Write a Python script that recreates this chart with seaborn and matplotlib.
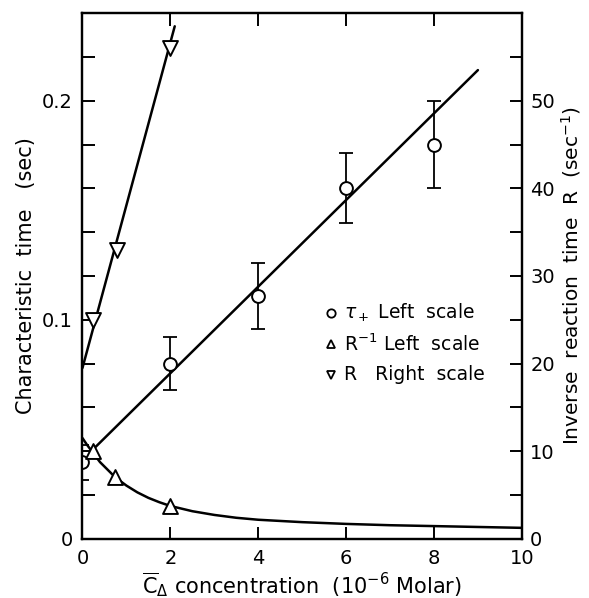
import numpy as np
import pandas as pd
import matplotlib
matplotlib.use("Agg")
import matplotlib.pyplot as plt
import seaborn as sns

# --- data ---
tau_x = [0, 2, 4, 6, 8]
tau_y = [0.035, 0.080, 0.111, 0.160, 0.180]
tau_err = [0.008, 0.012, 0.015, 0.016, 0.020]

rinv_x = [0.25, 0.75, 2.0]
rinv_y = [0.040, 0.028, 0.015]

r_x = [0.25, 0.78, 2.0]
r_y = [25.0, 33.0, 56.0]

# fitted lines
tau_line_x = [0.2, 9.0]
tau_line_y = [0.040, 0.214]

r_line_x = [0.0, 2.1]
r_line_y = [19.5, 58.5]

curve_x = [0, 0.1, 0.25, 0.4, 0.5, 0.75, 1.0, 1.25, 1.5, 1.75, 2.0, 2.5, 3.0,
           3.5, 4.0, 5.0, 6.0, 7.0, 8.0, 9.0, 10.0]
curve_y = [0.046, 0.043, 0.039, 0.035, 0.033, 0.028, 0.0243, 0.0212, 0.0187,
           0.0167, 0.0150, 0.0126, 0.0109, 0.0096, 0.0087, 0.0076, 0.0068,
           0.0062, 0.0058, 0.0054, 0.0050]

x_ticks = [0, 2, 4, 6, 8, 10]
left_labels = {0.0: "0", 0.1: "0.1", 0.2: "0.2"}
right_labels = [0, 10, 20, 30, 40, 50]

sns.set_style("ticks")
plt.rcParams["font.family"] = ["DejaVu Sans"]
plt.rcParams["mathtext.fontset"] = "dejavusans"
plt.rcParams["text.color"] = "black"
plt.rcParams["axes.labelcolor"] = "black"
plt.rcParams["xtick.color"] = "black"
plt.rcParams["ytick.color"] = "black"
plt.rcParams["axes.edgecolor"] = "black"

fig = plt.figure(figsize=(5.89, 5.98), dpi=100)
ax = fig.add_axes([0.140, 0.099, 0.746, 0.879])
ax2 = ax.twinx()

lw = 1.8
k = "black"

sns.lineplot(x=tau_line_x, y=tau_line_y, ax=ax, color=k, lw=lw)
sns.lineplot(x=curve_x, y=curve_y, ax=ax, color=k, lw=lw)
sns.lineplot(x=r_line_x, y=r_line_y, ax=ax2, color=k, lw=lw)

ax.errorbar(tau_x, tau_y, yerr=tau_err, fmt="none", ecolor=k, elinewidth=1.3,
            capsize=5, capthick=1.3, zorder=3)
sns.scatterplot(x=tau_x, y=tau_y, ax=ax, marker="o", s=85, facecolor="white",
                edgecolor=k, linewidth=1.4, zorder=4)
sns.scatterplot(x=rinv_x, y=rinv_y, ax=ax, marker="^", s=115, facecolor="white",
                edgecolor=k, linewidth=1.4, zorder=4)
sns.scatterplot(x=r_x, y=r_y, ax=ax2, marker="v", s=115, facecolor="white",
                edgecolor=k, linewidth=1.4, zorder=4)

ax.set_xlim(0, 10)
ax.set_ylim(0, 0.24)
ax2.set_ylim(0, 60)

fs = 14
ax.set_xticks(x_ticks)
ax.set_xticklabels([str(v) for v in x_ticks], fontsize=fs)
yt = np.round(np.arange(0, 0.241, 0.02), 3)
ax.set_yticks(yt)
ax.set_yticklabels([left_labels.get(round(float(v), 2), "") for v in yt], fontsize=fs)
rt = np.arange(0, 60, 5)
ax2.set_yticks(rt)
ax2.set_yticklabels([str(v) if v in right_labels else "" for v in rt], fontsize=fs)

ax.tick_params(axis="both", direction="in", length=9, width=1.4, pad=7,
               top=True, labeltop=False)
ax2.tick_params(axis="y", direction="in", length=9, width=1.4, pad=6)
for a in (ax, ax2):
    for s in a.spines.values():
        s.set_linewidth(1.6)
        s.set_visible(True)

lfs = 15
ax.set_xlabel(r"$\overline{\mathrm{C}}_{\Delta}$ concentration  (10$^{-6}$ Molar)", fontsize=lfs, labelpad=2)
ax.set_ylabel("Characteristic  time   (sec)", fontsize=lfs, labelpad=4)
ax2.set_ylabel(r"Inverse  reaction  time  R  (sec$^{-1}$)", fontsize=14.5, labelpad=3)

# legend drawn as text + markers in data coordinates
leg_items = [("o", r"$\tau_+$ Left  scale"), ("^", r"R$^{-1}$ Left  scale"), ("v", "R   Right  scale")]
leg_y = [0.103, 0.089, 0.075]
for (m, t), yy in zip(leg_items, leg_y):
    ax.plot([5.65], [yy], marker=m, ms=6, mfc="white", mec=k, mew=1.3, ls="none")
    ax.text(5.95, yy, t, fontsize=13.5, va="center", ha="left")

fig.savefig("out.png", dpi=100)
